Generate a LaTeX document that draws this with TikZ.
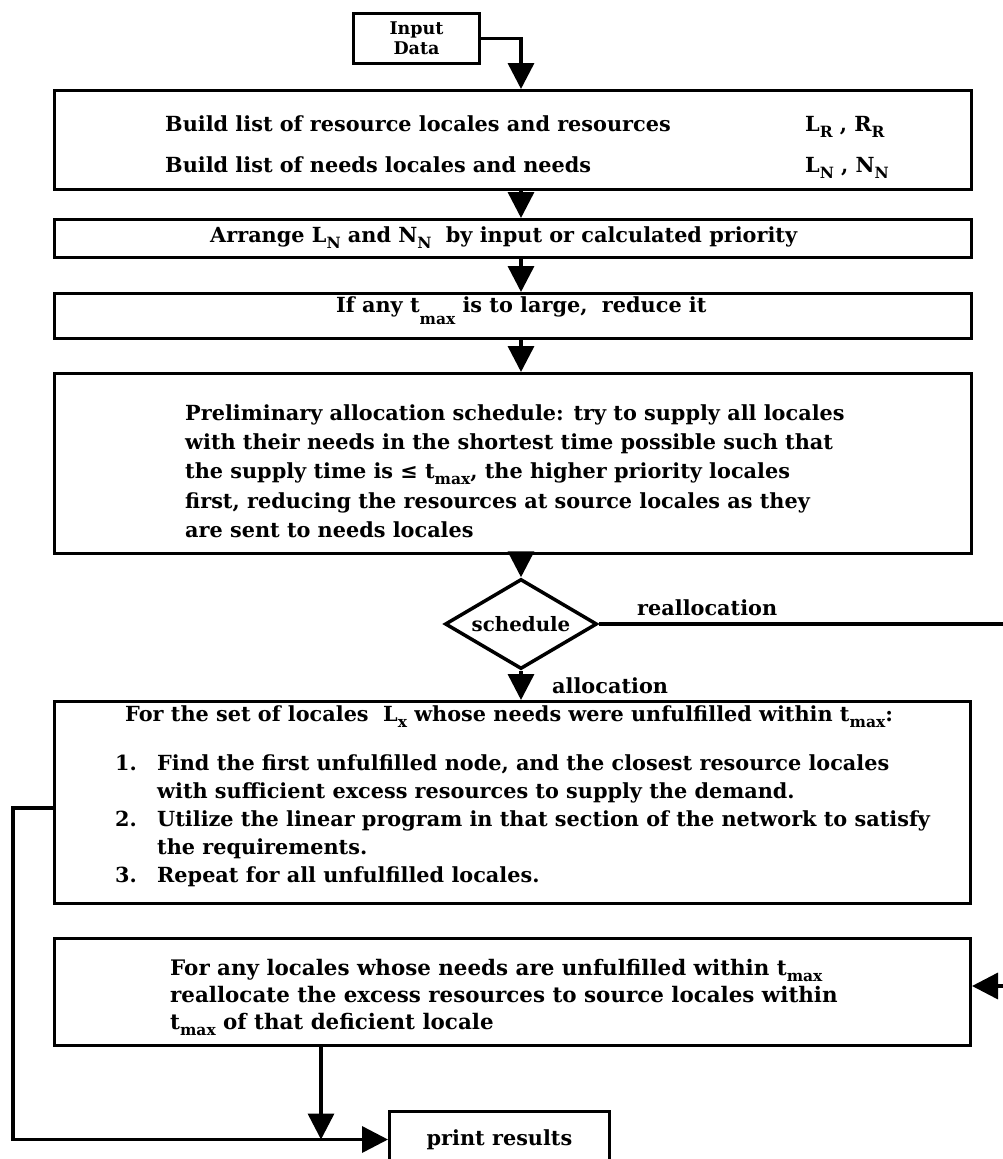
\documentclass[tikz,border=0pt]{standalone}
\usepackage{fontspec}
\newfontfamily\tw{DejaVu Serif}
\usetikzlibrary{shapes.geometric,arrows.meta}
\newcommand{\lsub}[1]{\raisebox{-0.6ex}{\fontsize{15.5}{15.5}\selectfont #1}}
\newcommand{\tmax}{t\lsub{max}}
\begin{document}
\begin{tikzpicture}[x=1pt,y=-1pt,
  box/.style={draw, line width=3pt, inner sep=0pt, anchor=north west},
  txt/.style={anchor=base west, inner sep=0pt, font=\tw\bfseries\fontsize{20.8}{28}\selectfont},
  wtxt/.style={txt, font=\tw\bfseries\fontsize{21.4}{27}\selectfont},
  arr/.style={line width=3.5pt, -{Triangle[length=26pt,width=26pt]}},
  dec/.style={draw, diamond, line width=3.5pt, minimum width=152pt, minimum height=90pt, inner sep=0pt, aspect=1.69, font=\tw\bfseries\fontsize{19.8}{28}\selectfont}
]
\useasboundingbox (0,0) rectangle (1002,1159);

% boxes
\node[box, minimum width=126pt, minimum height=50pt, align=center, font=\tw\bfseries\fontsize{17.5}{20}\selectfont] (inp) at (352,12) {Input\\Data};
\node[box, minimum width=917pt, minimum height=99pt] (b1) at (53,89) {};
\node[box, minimum width=917pt, minimum height=38pt] (b2) at (53,218) {};
\node[box, minimum width=917pt, minimum height=45pt] (b3) at (53,292) {};
\node[box, minimum width=917pt, minimum height=180pt] (b4) at (53,372) {};
\node[dec] (dia) at (521,624) {schedule};
\node[box, minimum width=916pt, minimum height=202pt] (b5) at (53,700) {};
\node[box, minimum width=916pt, minimum height=107pt] (b6) at (53,937) {};
\node[box, minimum width=220pt, minimum height=56pt, font=\tw\bfseries\fontsize{20.8}{28}\selectfont] (pr) at (388,1110) {print results};

% helper coordinates
\coordinate (col) at (521,0);
\coordinate (ry) at (1016,986);
\coordinate (lx) at (13,808);
\coordinate (px) at (321,0);

% connectors
\draw[arr] (inp.east) -| (b1.north -| col);
\draw[arr] (b1.south -| col) -- (b2.north -| col);
\draw[arr] (b2.south -| col) -- (b3.north -| col);
\draw[arr] (b3.south -| col) -- (b4.north -| col);
\draw[arr] (b4.south -| col) -- (dia.north);
\draw[arr] (dia.south) -- (b5.north -| dia.south);
\draw[arr] (dia.east) -| (ry) -- (b6.east |- ry);
\draw[arr] (b5.west |- lx) -- (lx) |- (pr.west);
\draw[arr] (b6.south -| px) -- (px |- pr.west);

% labels
\node[txt] (realloc) at (637,615) {reallocation};
\node[txt] (alloc) at (552,693) {allocation};

% box 1
\node[txt] (t1a) at (165,131) {Build list of resource locales and resources};
\node[txt] (t1b) at (805,131) {L\lsub{R} , R\lsub{R}};
\node[txt] (t1c) at (165,172) {Build list of needs locales and needs};
\node[txt] (t1d) at (805,172) {L\lsub{N} , N\lsub{N}};
% box 2
\node[txt] (t2) at (210,242) {Arrange L\lsub{N} and N\lsub{N}\ \ by input or calculated priority};
% box 3
\node[txt] (t3) at (336,312) {If any t\raisebox{-12pt}{\fontsize{15.5}{15.5}\selectfont max} is to large,\ \ reduce it};
% box 4
\node[txt] (t4a) at (185,420) {Preliminary allocation schedule: try to supply all locales};
\node[txt] (t4b) at (185,449) {with their needs in the shortest time possible such that};
\node[txt] (t4c) at (185,478) {the supply time is ≤ \tmax, the higher priority locales};
\node[txt] (t4d) at (185,508) {first, reducing the resources at source locales as they};
\node[txt] (t4e) at (185,537) {are sent to needs locales};
% box 5
\node[txt] (t5) at (125,721) {For the set of locales\ \ L\lsub{x} whose needs were unfulfilled within \tmax:};
\node[txt] (n1) at (115,770) {1.};
\node[txt] (i1a) at (157,770) {Find the first unfulfilled node,\ and the closest resource locales};
\node[txt] (i1b) at (157,798) {with sufficient excess resources to supply the demand.};
\node[txt] (n2) at (115,826) {2.};
\node[txt] (i2a) at (157,826) {Utilize the linear program in that section of the network to satisfy};
\node[txt] (i2b) at (157,854) {the requirements.};
\node[txt] (n3) at (115,882) {3.};
\node[txt] (i3) at (157,882) {Repeat for all unfulfilled locales.};
% box 6
\node[wtxt] (t6a) at (170,975) {For any locales whose needs are unfulfilled within \tmax};
\node[wtxt] (t6b) at (170,1002) {reallocate the excess resources to source locales within};
\node[wtxt] (t6c) at (170,1029) {\tmax{} of that deficient locale};
\end{tikzpicture}
\end{document}
